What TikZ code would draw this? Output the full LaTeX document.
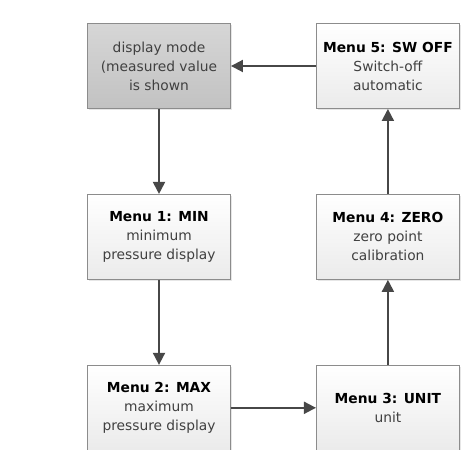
\documentclass[tikz,border=0pt]{standalone}
\usepackage{fontspec}
\setmainfont{DejaVu Sans}
\usetikzlibrary{positioning,shapes,arrows.meta,shadows}
\definecolor{boxline}{HTML}{8C8C8C}
\definecolor{arrowgray}{HTML}{474747}
\tikzstyle{block} = [draw=boxline, line width=0.9pt, minimum width=143pt, minimum height=85pt, align=center, text=black!75, font=\fontsize{13.8}{19}\selectfont, top color=white, bottom color=black!8, drop shadow={opacity=0.2, shadow xshift=1.5pt, shadow yshift=-1.5pt}]
\tikzstyle{mode} = [block, top color=black!16, bottom color=black!24]
\tikzstyle{flow} = [draw=arrowgray, line width=1.9pt, -{Triangle[length=12pt,width=12pt]}]
\newcommand{\menutitle}[1]{\textcolor{black}{\textbf{#1}}}

\begin{document}
\begin{tikzpicture}[node distance=85pt]
        \useasboundingbox (-159pt,66pt) rectangle (311pt,-383pt);
        %Blocks
        \node [mode] (display) at (0,0) {display mode\\(measured value\\is shown};
        \node [block, below = of display] (menu1) {\menutitle{Menu 1: MIN}\\minimum\\pressure display};
        \node [block, below = of menu1] (menu2) {\menutitle{Menu 2: MAX}\\maximum\\pressure display};
        \node [block, right = of menu2] (menu3) {\menutitle{Menu 3: UNIT}\\unit};
        \node [block, above = of menu3] (menu4) {\menutitle{Menu 4: ZERO}\\zero point\\calibration};
        \node [block, above = of menu4] (menu5) {\menutitle{Menu 5: SW OFF}\\Switch-off\\automatic};
        %Arrows
        \draw[flow] (display) -- (menu1);
        \draw[flow] (menu1) -- (menu2);
        \draw[flow] (menu2) -- (menu3);
        \draw[flow] (menu3) -- (menu4);
        \draw[flow] (menu4) -- (menu5);
        \draw[flow] (menu5) -- (display);
\end{tikzpicture}
\end{document}
